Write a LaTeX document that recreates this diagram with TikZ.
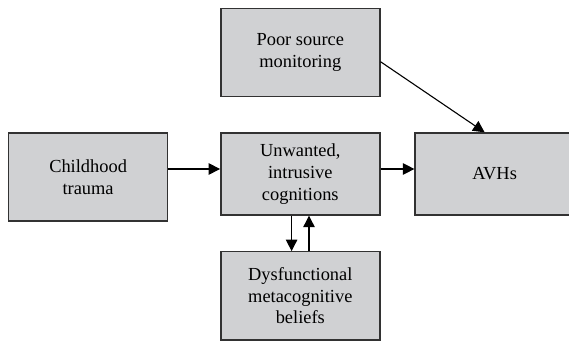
\documentclass[tikz,border=0pt]{standalone}
\usepackage{fontspec}
\setmainfont{Liberation Serif}
\usetikzlibrary{arrows.meta}
\definecolor{boxgray}{RGB}{208,209,211}
\definecolor{edgegray}{RGB}{50,50,50}

\begin{document}
\begin{tikzpicture}[x=1pt, y=1pt,
    box/.style={rectangle, draw=edgegray, line width=1.4pt, fill=boxgray, minimum width=159pt, minimum height=88pt, inner sep=0pt, align=center, font=\fontsize{18.4}{21.7}\selectfont},
    arr/.style={-{Triangle[length=11.5pt,width=11.5pt]}, line width=1.1pt, black}]
        \useasboundingbox (0,0) rectangle (569,342);
        % Nodes
        \node[box] (poor) at (300.3,289.3) {Poor source\\monitoring};
        \node[box] (child) at (88.1,165) {Childhood\\trauma};
        \node[box, minimum height=82pt] (unw) at (300.3,168) {Unwanted,\\intrusive\\cognitions};
        \node[box, minimum height=82pt] (avh) at (494.6,168) {AVHs};
        \node[box] (dys) at (300.3,46.2) {Dysfunctional\\metacognitive\\beliefs};

        % Edges
        \draw[arr] ([yshift=8pt]child.east) -- ([yshift=5pt]unw.west);
        \draw[arr] ([yshift=5pt]unw.east) -- ([yshift=5pt]avh.west);
        \draw[arr] ([yshift=-9pt]poor.east) -- ([xshift=-10pt]avh.north);

        % Feedback loop
        \draw[arr] ([xshift=-8.7pt]unw.south) -- ([xshift=-8.7pt]dys.north);
        \draw[arr] ([xshift=8.7pt]dys.north) -- ([xshift=8.7pt]unw.south);
\end{tikzpicture}
\end{document}
